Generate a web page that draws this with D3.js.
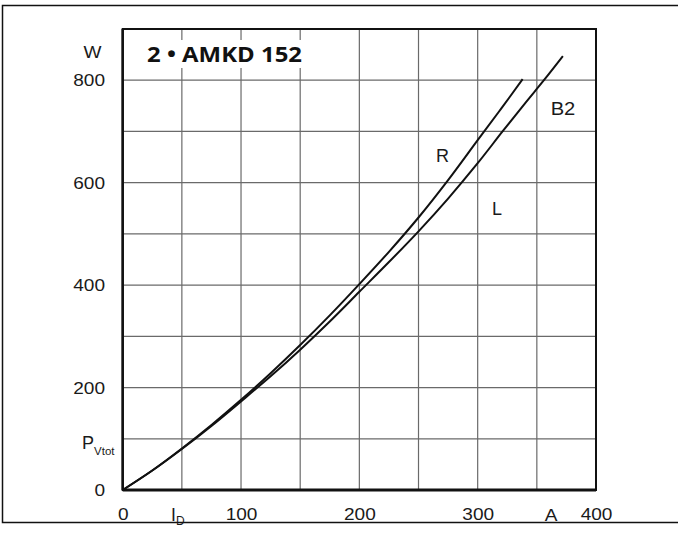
<!DOCTYPE html>
<html>
<head>
<meta charset="utf-8">
<script src="https://cdn.jsdelivr.net/npm/d3@7"></script>
<style>
  html, body { margin: 0; padding: 0; background: #fff; }
  svg { display: block; }
  text { font-family: "Liberation Sans", Arial, sans-serif; fill: #1a1a1a; }
</style>
</head>
<body>
<svg id="chart" width="678" height="540"></svg>
<script>
// Forward current I_D (A) vs. total power loss P_Vtot (W) for 2 • AMKD 152
const curveR_I = [0, 25, 50, 75, 100, 125, 150, 175, 200, 225, 250, 275, 300, 320, 338];
const curveR_P = [0, 38, 81, 127, 176, 228, 283, 341, 402, 465, 532, 605, 683, 745, 802];
const curveL_I = [0, 25, 50, 75, 100, 125, 150, 175, 200, 225, 250, 275, 300, 321, 340, 356, 372];
const curveL_P = [0, 38, 80, 125, 173, 222, 274, 329, 387, 445, 505, 569, 638, 700, 755, 800, 847];

const xTickLabels = [0, 100, 200, 300, 400];
const yTickLabels = [0, 200, 400, 600, 800];
const xGrid = [50, 100, 150, 200, 250, 300, 350];
const yGrid = [100, 200, 300, 400, 500, 600, 700, 800];
const title = "2 • AMKD 152";

const svg = d3.select("#chart");
const x = d3.scaleLinear().domain([0, 400]).range([122.7, 596]);
const y = d3.scaleLinear().domain([0, 900]).range([490, 29]);

// outer frame
svg.append("path")
  .attr("d", "M678,5.5 H2.5 V522.5 H678")
  .attr("fill", "none").attr("stroke", "#111").attr("stroke-width", 1.5);

// grid
const grid = svg.append("g").attr("stroke", "#6a6a6a").attr("stroke-width", 1.2);
grid.selectAll("line.v").data(xGrid).join("line")
  .attr("x1", d => x(d)).attr("x2", d => x(d))
  .attr("y1", y(0)).attr("y2", y(900));
grid.selectAll("line.h").data(yGrid).join("line")
  .attr("x1", x(0)).attr("x2", x(400))
  .attr("y1", d => y(d)).attr("y2", d => y(d));

// title box hiding grid behind the label
svg.append("rect").attr("x", 140).attr("y", 40).attr("width", 172).attr("height", 28).attr("fill", "#fff");
svg.append("text")
  .attr("x", 147).attr("y", 62)
  .attr("textLength", 155).attr("lengthAdjust", "spacingAndGlyphs")
  .style("font-family", "'Open Sans', 'Noto Sans', sans-serif")
  .style("font-weight", 700).style("font-size", "22px").style("fill", "#111")
  .text(title);

// plot frame
svg.append("rect")
  .attr("x", x(0)).attr("y", y(900))
  .attr("width", x(400) - x(0)).attr("height", y(0) - y(900))
  .attr("fill", "none").attr("stroke", "#111").attr("stroke-width", 2);
svg.append("line")
  .attr("x1", x(0)).attr("x2", x(400)).attr("y1", y(0)).attr("y2", y(0))
  .attr("stroke", "#111").attr("stroke-width", 3);
svg.append("line")
  .attr("x1", x(0)).attr("x2", x(0)).attr("y1", y(0)).attr("y2", y(900))
  .attr("stroke", "#111").attr("stroke-width", 2.5);

// curves
const line = d3.line().x(d => x(d[0])).y(d => y(d[1])).curve(d3.curveCatmullRom.alpha(0.5));
const rPts = curveR_I.map((v, i) => [v, curveR_P[i]]);
const lPts = curveL_I.map((v, i) => [v, curveL_P[i]]);
[rPts, lPts].forEach(pts => {
  svg.append("path").datum(pts).attr("d", line)
    .attr("fill", "none").attr("stroke", "#111").attr("stroke-width", 2);
});

// axes
const xAxis = svg.append("g").attr("transform", `translate(0,${y(0)})`)
  .call(d3.axisBottom(x).tickValues(xTickLabels).tickSize(0).tickPadding(18));
const yAxis = svg.append("g").attr("transform", `translate(105,0)`)
  .call(d3.axisLeft(y).tickValues(yTickLabels).tickSize(0).tickPadding(0));
[xAxis, yAxis].forEach(g => {
  g.select(".domain").remove();
  g.selectAll("text").style("font-family", "'Liberation Sans', Arial, sans-serif")
    .style("font-size", "17px").attr("fill", "#1a1a1a").classed("wide", true);
});

// unit and quantity labels
const fs = "17px";
svg.append("text").attr("x", 551).attr("y", 520.5).attr("text-anchor", "middle")
  .style("font-size", fs).attr("class", "wide").text("A");
svg.append("text").attr("x", 101.5).attr("y", 57.5).attr("text-anchor", "end")
  .style("font-size", fs).attr("class", "wide").text("W");

const id = svg.append("text").attr("x", 171).attr("y", 520.5).style("font-size", "17.5px");
id.append("tspan").text("I");
id.append("tspan").attr("dy", 4).style("font-size", "12px").text("D");

const pv = svg.append("text").attr("x", 82).attr("y", 448.5).style("font-size", "18px");
pv.append("tspan").text("P");
pv.append("tspan").attr("dy", 6).style("font-size", "11.5px").text("Vtot");

// curve labels
svg.append("text").attr("x", 442.5).attr("y", 161.5).attr("text-anchor", "middle").style("font-size", "18px").text("R");
svg.append("text").attr("x", 497).attr("y", 214.5).attr("text-anchor", "middle").style("font-size", "18px").text("L");
svg.append("text").attr("x", 563).attr("y", 114.5).attr("text-anchor", "middle").attr("class", "wide").style("font-size", "18px").text("B2");

// widen the regular-weight labels slightly
svg.selectAll("text.wide").each(function () {
  const w = this.getComputedTextLength();
  d3.select(this).attr("textLength", w * 1.12).attr("lengthAdjust", "spacingAndGlyphs");
});
</script>
</body>
</html>
